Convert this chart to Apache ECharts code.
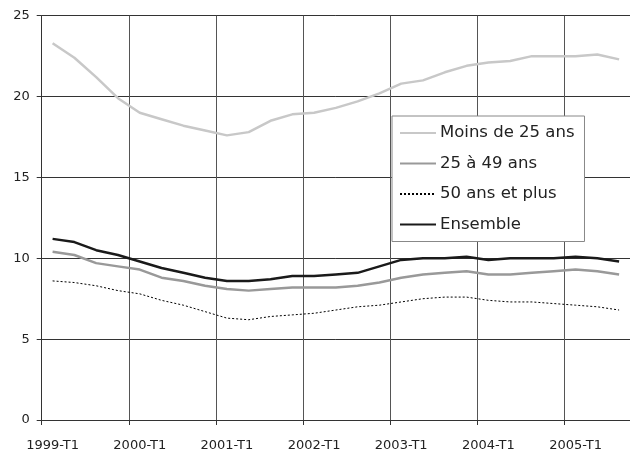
<!DOCTYPE html>
<html>
<head>
<meta charset="utf-8">
<script src="https://cdn.jsdelivr.net/npm/echarts@6/dist/echarts.min.js"></script>
<style>
  html, body { margin: 0; padding: 0; background: #fff; }
  #chart { width: 630px; height: 452px; }
</style>
</head>
<body>
<div id="chart"></div>
<script>
// trimestres 1999-T1 .. 2005-T3
var quarters = [];
for (var y = 1999; y <= 2005; y++) {
  for (var q = 1; q <= 4; q++) {
    if (y === 2005 && q > 3) break;
    quarters.push(y + '-T' + q);
  }
}

var moins25 = [23.3, 22.4, 21.2, 19.9, 19.0, 18.6, 18.2, 17.9, 17.6, 17.8, 18.5, 18.9, 19.0,
  19.3, 19.7, 20.2, 20.8, 21.0, 21.5, 21.9, 22.1, 22.2, 22.5, 22.5, 22.5, 22.6, 22.3];
var de25a49 = [10.4, 10.2, 9.7, 9.5, 9.3, 8.8, 8.6, 8.3, 8.1, 8.0, 8.1, 8.2, 8.2,
  8.2, 8.3, 8.5, 8.8, 9.0, 9.1, 9.2, 9.0, 9.0, 9.1, 9.2, 9.3, 9.2, 9.0];
var plus50 = [8.6, 8.5, 8.3, 8.0, 7.8, 7.4, 7.1, 6.7, 6.3, 6.2, 6.4, 6.5, 6.6,
  6.8, 7.0, 7.1, 7.3, 7.5, 7.6, 7.6, 7.4, 7.3, 7.3, 7.2, 7.1, 7.0, 6.8];
var ensemble = [11.2, 11.0, 10.5, 10.2, 9.8, 9.4, 9.1, 8.8, 8.6, 8.6, 8.7, 8.9, 8.9,
  9.0, 9.1, 9.5, 9.9, 10.0, 10.0, 10.1, 9.9, 10.0, 10.0, 10.0, 10.1, 10.0, 9.8];

var yTicks = [0, 5, 10, 15, 20, 25];

var font = 'DejaVu Sans';
var chart = echarts.init(document.getElementById('chart'));

var option = {
  backgroundColor: '#fff',
  animation: false,
  grid: { left: 41.7, top: 15.7, bottom: 31.3, right: -7.6 },
  legend: {
    orient: 'vertical',
    left: 392,
    top: 116,
    padding: [8.5, 10, 8.5, 7],
    backgroundColor: '#fff',
    borderColor: '#888',
    borderWidth: 1,
    borderRadius: 0,
    itemWidth: 36,
    itemHeight: 16,
    itemGap: 13.5,
    itemStyle: { opacity: 0 },
    textStyle: { fontFamily: font, fontSize: 16.5, color: '#222', padding: [0, 0, 0, -1] },
    data: ['Moins de 25 ans', '25 à 49 ans', '50 ans et plus', 'Ensemble']
  },
  xAxis: {
    type: 'category',
    data: quarters,
    boundaryGap: true,
    axisLine: { lineStyle: { color: '#333', width: 1 } },
    axisTick: { show: true, interval: 3, length: 5, lineStyle: { color: '#333' } },
    axisLabel: { interval: 3, margin: 19, fontFamily: font, fontSize: 13, color: '#222' },
    splitLine: { show: true, interval: 3, lineStyle: { color: '#555', width: 1 } }
  },
  yAxis: {
    type: 'value',
    min: yTicks[0],
    max: yTicks[yTicks.length - 1],
    interval: 5,
    axisLine: { show: true, lineStyle: { color: '#333', width: 1 } },
    axisTick: { show: true, length: 5, lineStyle: { color: '#333' } },
    axisLabel: { margin: 12, fontFamily: font, fontSize: 13, color: '#222' },
    splitLine: { show: true, lineStyle: { color: '#333', width: 1 } }
  },
  series: [
    {
      name: 'Moins de 25 ans', type: 'line', data: moins25, symbol: 'none',
      itemStyle: { color: '#c8c8c8' },
      lineStyle: { color: '#c8c8c8', width: 2.5 }
    },
    {
      name: '25 à 49 ans', type: 'line', data: de25a49, symbol: 'none',
      itemStyle: { color: '#999' },
      lineStyle: { color: '#999', width: 2.5 }
    },
    {
      name: '50 ans et plus', type: 'line', data: plus50, symbol: 'none',
      itemStyle: { color: '#000' },
      lineStyle: { color: '#000', width: 1, type: [2, 2] }
    },
    {
      name: 'Ensemble', type: 'line', data: ensemble, symbol: 'none',
      itemStyle: { color: '#1a1a1a' },
      lineStyle: { color: '#1a1a1a', width: 2.5 }
    }
  ]
};

chart.setOption(option);
</script>
</body>
</html>
